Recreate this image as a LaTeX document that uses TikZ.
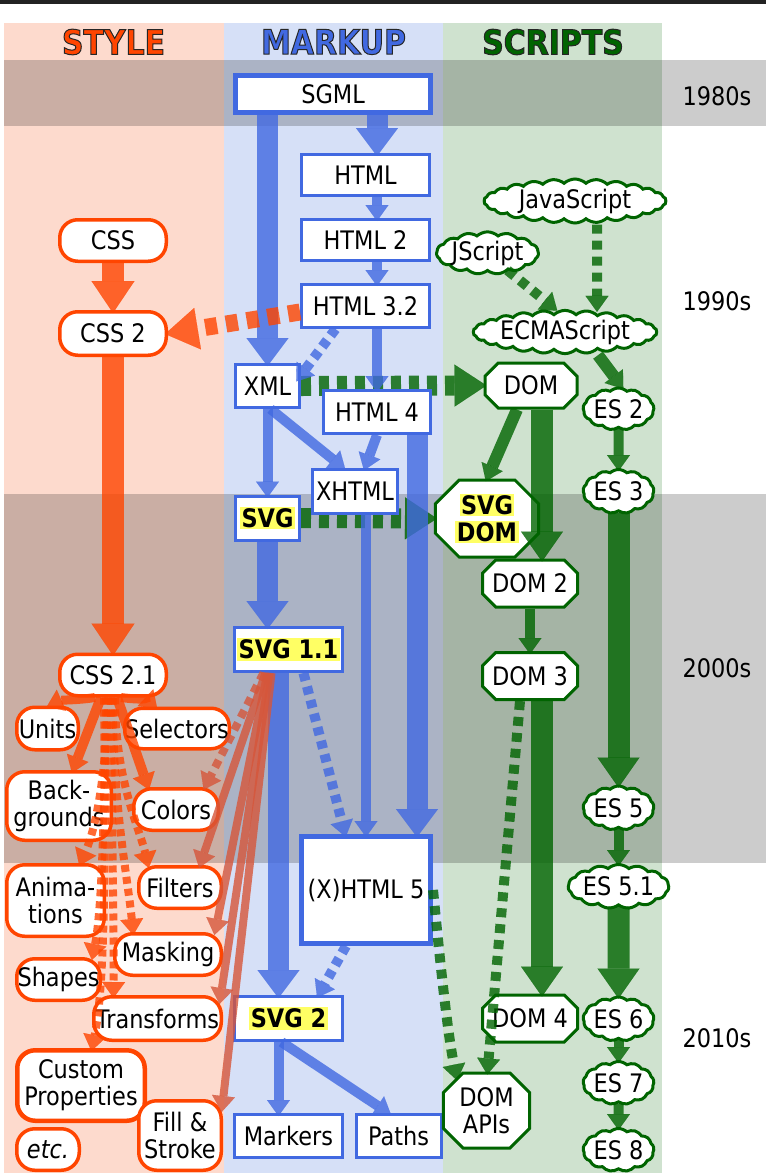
\documentclass[tikz,border=0pt]{standalone}
\usepackage{fontspec}
\setmainfont{DejaVu Sans}[FakeStretch=0.88]
\usetikzlibrary{arrows.meta,shapes.symbols,shapes.misc,calc}
\definecolor{oc}{HTML}{FF4500}
\definecolor{bc}{HTML}{4169E1}
\definecolor{gc}{HTML}{006400}
\definecolor{sr}{RGB}{214,86,58}
\definecolor{colS}{RGB}{253,218,205}
\definecolor{colM}{RGB}{214,224,247}
\definecolor{colJ}{RGB}{207,226,207}
\definecolor{hly}{RGB}{255,255,100}
\newcommand\hlt[1]{{\setlength\fboxsep{1.5pt}\colorbox{hly}{\bfseries #1}}}
\newcommand\outl[1]{\special{pdf:literal direct 0.15 0.15 0.15 RG 1 w 2 Tr}#1\special{pdf:literal direct 0 Tr}}
\pgfdeclarelayer{bg}
\pgfdeclarelayer{low}
\pgfdeclarelayer{top}
\pgfsetlayers{bg,low,main,top}
\tikzset{
  every node/.style={font=\fontsize{25.5}{27}\selectfont, inner sep=0pt, align=center, text=black},
  hd/.style={font=\fontsize{34}{36}\selectfont\bfseries},
  mk/.style={rectangle, draw=bc, fill=white, line width=3pt},
  stn/.style={rectangle, draw=oc, fill=white, line width=3.5pt, rounded corners=18pt},
  cl/.style={cloud, cloud puffs=#1, cloud puff arc=85, cloud ignores aspect, draw=gc, fill=white, line width=3pt},
  oct/.style={chamfered rectangle, chamfered rectangle xsep=#1, draw=gc, fill=white, line width=3pt},
  ed/.style={opacity=0.8, shorten >=-3pt},
  tipS/.style={-{Triangle[width=23pt,length=16pt,line width=0.1pt]}},
  tipL/.style={-{Triangle[width=42pt,length=28pt,line width=0.1pt]}},
  eBn/.style={ed, draw=bc, line width=10pt, tipS},
  eBk/.style={ed, draw=bc, line width=21pt, tipL},
  eBd/.style={eBn, dash pattern=on 8pt off 6pt},
  eOn/.style={ed, draw=oc, line width=9pt, tipS},
  eOk/.style={ed, draw=oc, line width=22pt, -{Triangle[width=43pt,length=32pt,line width=0.1pt]}},
  eOd/.style={eOn, line width=8pt, dash pattern=on 7pt off 5pt},
  eOkd/.style={ed, draw=oc, line width=17pt, -{Triangle[width=42pt,length=33pt,line width=0.1pt]}, dash pattern=on 12pt off 9pt},
  eSv/.style={ed, draw=sr, line width=8pt, tipS},
  eSvd/.style={eSv, dash pattern=on 8pt off 6pt},
  eGn/.style={ed, draw=gc, line width=10pt, tipS},
  eGm/.style={eGn, line width=12pt},
  eGk/.style={ed, draw=gc, line width=22pt, -{Triangle[width=42pt,length=30pt,line width=0.1pt]}},
  eGd/.style={eGn, dash pattern=on 9pt off 7pt},
  eGkd/.style={ed, draw=gc, line width=20pt, -{Triangle[width=42pt,length=32pt,line width=0.1pt]}, dash pattern=on 10pt off 8pt},
}
\begin{document}
\begin{tikzpicture}[x=1pt,y=-1pt]
\useasboundingbox (0,0) rectangle (766,1173);
\begin{pgfonlayer}{bg}
\fill[white] (0,0) rectangle (766,1173);
\fill[colS] (4,23) rectangle (224,1173);
\fill[colM] (224,23) rectangle (443,1173);
\fill[colJ] (443,23) rectangle (662,1173);
\fill[black, opacity=0.2] (4,60) rectangle (766,126);
\fill[black, opacity=0.2] (4,494) rectangle (766,863);
\draw[line width=4pt, color={rgb,255:red,34;green,34;blue,34}] (0,2) -- (766,2);
\end{pgfonlayer}

% headers and decades
\node[hd, text=oc] (hS) at (113.5,42) {\outl{STYLE}};
\node[hd, text=bc] (hM) at (333.5,42) {\outl{MARKUP}};
\node[hd, text=gc] (hJ) at (553,42) {\outl{SCRIPTS}};
\node (d80) at (717,96) {1980s};
\node (d90) at (717,301) {1990s};
\node (d00) at (717,668) {2000s};
\node (d10) at (717,1038) {2010s};

% markup
\node[mk, line width=5pt, minimum width=195pt, minimum height=37pt] (sgml) at (333,94) {SGML};
\node[mk, minimum width=128pt, minimum height=41pt] (html) at (365.5,175) {HTML};
\node[mk, minimum width=128pt, minimum height=41pt] (html2) at (365.5,240) {HTML 2};
\node[mk, minimum width=128pt, minimum height=43pt] (html32) at (365.5,306) {HTML 3.2};
\node[mk, minimum width=64pt, minimum height=43pt] (xml) at (267.5,386) {XML};
\node[mk, minimum width=107pt, minimum height=43pt] (html4) at (377,412) {HTML 4};
\node[mk, minimum width=85pt, minimum height=44pt] (xhtml) at (355,491) {XHTML};
\node[mk, minimum width=64pt, minimum height=44pt] (svg) at (267.5,518) {\hlt{SVG}};
\node[mk, minimum width=108pt, minimum height=44pt] (svg11) at (288.5,649.5) {\hlt{SVG 1.1}};
\node[mk, line width=5pt, minimum width=129pt, minimum height=107pt] (xhtml5) at (366,890) {(X)HTML 5};
\node[mk, minimum width=108pt, minimum height=44pt] (svg2) at (288.5,1018.5) {\hlt{SVG 2}};
\node[mk, minimum width=108pt, minimum height=43pt] (markers) at (288.5,1136) {Markers};
\node[mk, minimum width=85pt, minimum height=43pt] (paths) at (398.5,1136) {Paths};

% style
\node[stn, minimum width=106.5pt, minimum height=41.5pt] (css) at (113,240.5) {CSS};
\node[stn, minimum width=106.5pt, minimum height=43.5pt] (css2) at (113,333.5) {CSS 2};
\node[stn, minimum width=106.5pt, minimum height=41.5pt] (css21) at (113,675) {CSS 2.1};
\node[stn, minimum width=61.5pt, minimum height=42.5pt] (units) at (47.5,728.5) {Units};
\node[stn, minimum width=104.5pt, minimum height=40.5pt] (selectors) at (177,728.5) {Selectors};
\node[stn, minimum width=104.5pt, minimum height=68.5pt] (backgrounds) at (59,806) {Back-\\grounds};
\node[stn, minimum width=84.5pt, minimum height=41.5pt] (colors) at (176,809.5) {Colors};
\node[stn, minimum width=97.5pt, minimum height=71.5pt] (animations) at (55.5,900.5) {Anima-\\tions};
\node[stn, minimum width=82.5pt, minimum height=41.5pt] (filters) at (180,887.5) {Filters};
\node[stn, minimum width=106.5pt, minimum height=41.5pt] (masking) at (168,954.5) {Masking};
\node[stn, minimum width=83.5pt, minimum height=41.5pt] (shapes) at (58.5,979.5) {Shapes};
\node[stn, minimum width=127.5pt, minimum height=43.5pt] (transforms) at (157.5,1018.5) {Transforms};
\node[stn, line width=4.5pt, minimum width=127.5pt, minimum height=70.5pt] (custom) at (81,1085.5) {Custom\\Properties};
\node[stn, minimum width=82.5pt, minimum height=69.5pt] (fill) at (180,1135.5) {Fill \&\\Stroke};
\node[stn, minimum width=62.5pt, minimum height=41.5pt] (etc) at (48,1149.5) {\itshape etc.};

% scripts
\node[cl=26, minimum width=182pt, minimum height=44pt] (javascript) at (575,201) {JavaScript};
\node[cl=15, minimum width=90pt, minimum height=41pt] (jscript) at (487.5,253) {JScript};
\node[cl=26, minimum width=182pt, minimum height=43pt] (ecma) at (565,332) {ECMAScript};
\node[cl=13, minimum width=68pt, minimum height=42pt] (es2) at (618.5,409) {ES 2};
\node[cl=13, minimum width=68pt, minimum height=44pt] (es3) at (618.5,491.5) {ES 3};
\node[cl=13, minimum width=68pt, minimum height=44pt] (es5) at (618.5,808) {ES 5};
\node[cl=15, minimum width=90pt, minimum height=44pt] (es51) at (618.5,886.5) {ES 5.1};
\node[cl=13, minimum width=68pt, minimum height=44pt] (es6) at (618.5,1019) {ES 6};
\node[cl=13, minimum width=68pt, minimum height=43pt] (es7) at (618.5,1083) {ES 7};
\node[cl=13, minimum width=68pt, minimum height=43pt] (es8) at (618.5,1150) {ES 8};
\node[oct=12pt, minimum width=92pt, minimum height=45pt] (dom) at (531,385.5) {DOM};
\node[oct=20pt, minimum width=80pt, minimum height=77pt] (svgdom) at (487,518.5) {\hlt{SVG}\\\hlt{DOM}};
\node[oct=12pt, minimum width=90pt, minimum height=47pt] (dom2) at (530,583.5) {DOM 2};
\node[oct=12pt, minimum width=90pt, minimum height=47pt] (dom3) at (530,676) {DOM 3};
\node[oct=12pt, minimum width=90pt, minimum height=47pt] (dom4) at (530,1018.5) {DOM 4};
\node[oct=16pt, minimum width=67pt, minimum height=75pt] (domapis) at (486.5,1110.5) {DOM\\APIs};

\begin{pgfonlayer}{low}
\draw[eGkd] (xml.east) -- (dom.west);
\draw[eGkd] (svg.east) -- (svgdom.west);
\end{pgfonlayer}

\begin{pgfonlayer}{top}
% markup
\draw[eBk] (sgml.south -| xml) -- (xml.north);
\draw[eBk] (sgml.south -| html4) -- (html.north -| html4);
\draw[eBn] (html.south -| html4) -- (html2.north -| html4);
\draw[eBn] (html2.south -| html4) -- (html32.north -| html4);
\draw[eBn] (html32.south -| html4) -- (html4.north);
\draw[eBd] ([xshift=-30pt]html32.south) -- ([xshift=-3pt,yshift=-16pt]xml.north east);
\draw[eBn] ([xshift=3pt]xml.south) -- ([xshift=-12pt]xhtml.north);
\draw[eBn] (html4.south) -- ([xshift=10pt]xhtml.north);
\draw[eBn] (xml.south) -- (svg.north);
\draw[eBk] (svg.south) -- (svg11.north -| svg);
\draw[eBn] (xhtml.south -| xhtml5) -- (xhtml5.north);
\draw[eBk] ([xshift=40pt]html4.south) -- ([xshift=51pt]xhtml5.north);
\draw[eBd] ([xshift=15pt]svg11.south) -- ([xshift=-21pt]xhtml5.north);
\draw[eBk] ([xshift=-10pt]svg11.south) -- ([xshift=-10pt]svg2.north);
\draw[eBd] ([xshift=-20pt]xhtml5.south) -- ([xshift=30pt]svg2.north);
\draw[eBn] ([xshift=-10pt]svg2.south) -- ([xshift=-10pt]markers.north);
\draw[eBn] ([xshift=-7pt]svg2.south) -- ([xshift=-10pt]paths.north);
% style
\draw[eOk] (css.south) -- (css2.north);
\draw[eOk] (css2.south) -- (css21.north);
\draw[eOkd] ([yshift=-6pt]html32.west) -- (css2.east);
\draw[eOn] ([xshift=-18pt]css21.south) .. controls (80,700) and (62,700) .. ([xshift=2pt]units.north);
\draw[eOn] ([xshift=8pt]css21.south) .. controls (132,699) and (148,700) .. ([xshift=-22pt]selectors.north);
\draw[eOn, line width=10pt] ([xshift=-12pt]css21.south) -- ([xshift=14pt]backgrounds.north);
\draw[eOn, line width=10pt] ([xshift=4pt]css21.south) -- ([xshift=-28pt]colors.north);
\draw[eOd] ([xshift=-5pt]css21.south) .. controls (106,780) and (95,830) .. ([xshift=25pt]animations.north);
\draw[eOd] ([xshift=2pt]css21.south) .. controls (115,780) and (140,830) .. ([xshift=-32pt]filters.north);
\draw[eOd] (css21.south) .. controls (112,800) and (128,880) .. ([xshift=-35pt]masking.north);
\draw[eOd] ([xshift=-7pt]css21.south) .. controls (104,820) and (102,910) .. ([xshift=34pt]shapes.north);
\draw[eOd] ([xshift=-2pt]css21.south) .. controls (112,850) and (114,930) .. ([xshift=-44pt]transforms.north);
\draw[eOd] ([xshift=-9pt]css21.south) .. controls (106,880) and (104,990) .. ([xshift=11pt]custom.north);
\draw[eSvd] ([xshift=-25pt]svg11.south) -- ([xshift=29pt]colors.north);
\draw[eSv] ([xshift=-23pt]svg11.south) -- ([xshift=20pt]filters.north);
\draw[eSv] ([xshift=-21pt]svg11.south) -- ([xshift=47pt]masking.north);
\draw[eSv] ([xshift=-19pt]svg11.south) -- ([xshift=-3pt,yshift=-6pt]transforms.north east);
\draw[eSv] ([xshift=-17pt]svg11.south) -- ([xshift=-1pt,yshift=-10pt]fill.north east);
% scripts
\draw[eGd] ([xshift=22pt]javascript.south) -- ([xshift=32pt]ecma.north);
\draw[eGd] ([xshift=20pt,yshift=2pt]jscript.south) -- ([xshift=-10pt]ecma.north);
\draw[eGm] ([xshift=33pt]ecma.south) -- ([xshift=3pt]es2.north);
\draw[eGn] (es2.south) -- (es3.north);
\draw[eGk] (es3.south) -- (es5.north);
\draw[eGn] (es5.south) -- (es51.north);
\draw[eGk] (es51.south) -- (es6.north);
\draw[eGn] (es6.south) -- (es7.north);
\draw[eGn] (es7.south) -- (es8.north);
\draw[eGm] ([xshift=-14pt]dom.south) -- (svgdom.north);
\draw[eGk] ([xshift=11pt]dom.south) -- ([xshift=12pt]dom2.north);
\draw[eGn] (dom2.south) -- (dom3.north);
\draw[eGk] ([xshift=12pt]dom3.south) -- ([xshift=12pt]dom4.north);
\draw[eGd] ([xshift=-10pt]dom3.south) -- ([xshift=1pt]domapis.north);
\draw[eGd] (xhtml5.east) .. controls (440,960) and (447,1030) .. ([xshift=-30pt,yshift=-6pt]domapis.north);
\end{pgfonlayer}
\end{tikzpicture}
\end{document}
